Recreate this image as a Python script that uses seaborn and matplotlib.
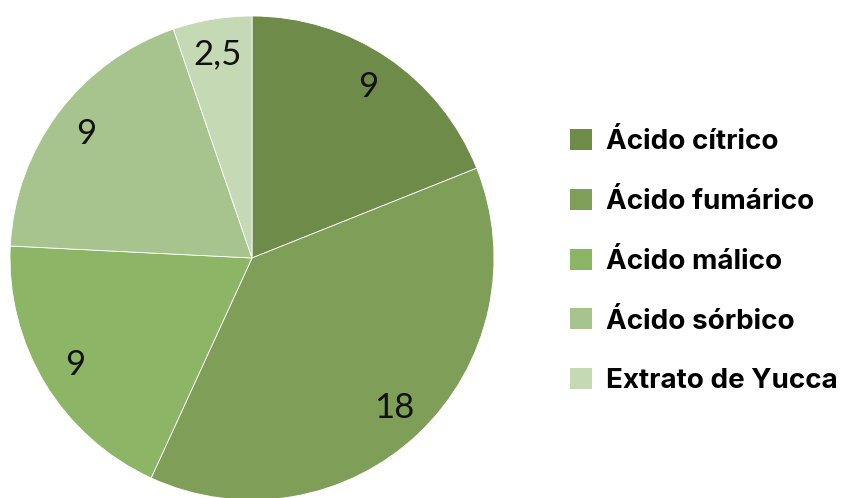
import seaborn as sns
import matplotlib.pyplot as plt

# chart data
categories = ["Ácido cítrico", "Ácido fumárico", "Ácido málico", "Ácido sórbico", "Extrato de Yucca"]
values = [9, 18, 9, 9, 2.5]
colors = ["#6e8b4a", "#7f9e57", "#8db566", "#a7c48e", "#c5d9b5"]

sns.set_style("white")
palette = sns.color_palette(colors)

fig = plt.figure(figsize=(8.42, 4.98), dpi=100)
# pie axes: centre about (252, 258) px, radius about 242 px
ax = fig.add_axes([10 / 842, -2 / 498, 484 / 842, 484 / 498])

total = sum(values)


def fmt(pct):
    v = pct * total / 100
    s = f"{v:.1f}".rstrip("0").rstrip(".")
    return s.replace(".", ",")


wedges, texts, autotexts = ax.pie(
    values,
    colors=palette,
    startangle=90,
    counterclock=False,
    autopct=fmt,
    pctdistance=0.855,
    wedgeprops=dict(linewidth=0.6, edgecolor="white"),
    textprops=dict(fontsize=25, color="#111111", family="Lato"),
)
ax.set_xlim(-1, 1)
ax.set_ylim(-1, 1)
ax.set_aspect("equal")

leg = fig.legend(
    wedges,
    categories,
    loc="upper left",
    bbox_to_anchor=(570 / 842, 1 - 129 / 498),
    frameon=False,
    prop=dict(family="Inter", weight="bold", size=20),
    labelcolor="black",
    borderpad=0,
    borderaxespad=0,
    handlelength=0.79,
    handleheight=0.79,
    handletextpad=0.5,
    labelspacing=1.21,
)
for h in leg.legend_handles:
    h.set_linewidth(0)

fig.savefig("out.png", dpi=100)
